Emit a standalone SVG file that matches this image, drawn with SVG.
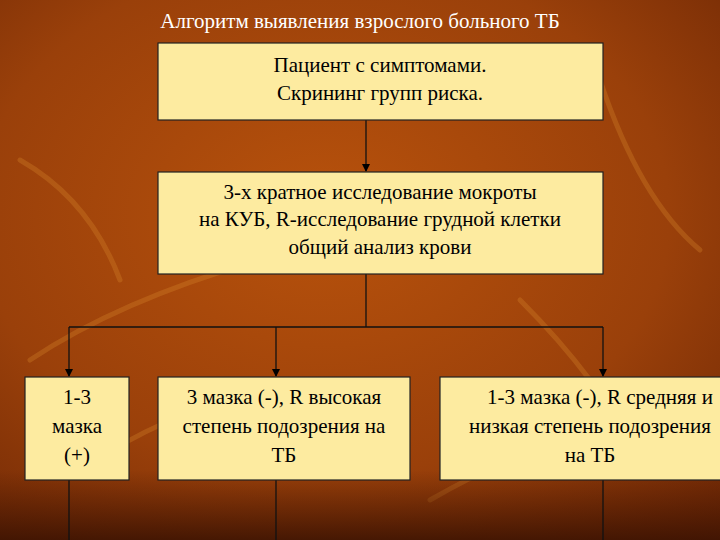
<svg xmlns="http://www.w3.org/2000/svg" width="720" height="540" viewBox="0 0 720 540">
<defs>
<radialGradient id="bg" cx="0.45" cy="0.4" r="0.8">
<stop offset="0" stop-color="#b8520c"/>
<stop offset="0.6" stop-color="#9a400a"/>
<stop offset="1" stop-color="#6e2705"/>
</radialGradient>
<linearGradient id="bot" x1="0" y1="0" x2="0" y2="1">
<stop offset="0" stop-color="#4a1803" stop-opacity="0"/>
<stop offset="1" stop-color="#3a1202" stop-opacity="0.85"/>
</linearGradient>
<marker id="ar" markerWidth="8" markerHeight="8" refX="7" refY="4" orient="auto" markerUnits="userSpaceOnUse">
<path d="M0,0 L8,4 L0,8 Z" fill="#000"/>
</marker>
<style>
.box{fill:#fdeba0;stroke:#222;stroke-width:1.2}
.ln{stroke:#111;stroke-width:1.3;fill:none}
text{font-family:"Liberation Serif","Times New Roman","DejaVu Serif",serif;font-size:21px;text-anchor:middle}
</style>
</defs>
<rect width="720" height="540" fill="url(#bg)"/>
<g fill="none" stroke="#d98a30" stroke-opacity="0.3" stroke-width="5" stroke-linecap="round">
<path d="M30,360 Q120,300 260,260"/>
<path d="M80,470 Q200,390 330,380"/>
<path d="M520,300 Q600,380 640,460"/>
<path d="M600,80 Q640,200 700,250"/>
<path d="M20,160 Q90,200 120,280"/>
<path d="M430,500 Q500,460 560,440"/>
</g>
<rect y="470" width="720" height="70" fill="url(#bot)"/>
<text x="360" y="28" fill="#fff">Алгоритм выявления взрослого больного ТБ</text>
<g id="connectors">
<path class="ln" d="M366,120 V171" marker-end="url(#ar)"/>
<path class="ln" d="M366,274 V327"/>
<path class="ln" d="M69,327 H603"/>
<path class="ln" d="M69,327 V376" marker-end="url(#ar)"/>
<path class="ln" d="M276,327 V376" marker-end="url(#ar)"/>
<path class="ln" d="M603,327 V376" marker-end="url(#ar)"/>
<path class="ln" d="M69,480 V540"/>
<path class="ln" d="M276,480 V540"/>
<path class="ln" d="M603,480 V540"/>
</g>
<g id="n1"><rect class="box" x="158" y="43" width="445" height="77"/>
<text x="380" y="72">Пациент с симптомами.</text>
<text x="380" y="100">Скрининг групп риска.</text></g>
<g id="n2"><rect class="box" x="158" y="172" width="445" height="102"/>
<text x="380" y="199">3-х кратное исследование мокроты</text>
<text x="380" y="226">на КУБ, R-исследование грудной клетки</text>
<text x="380" y="254">общий анализ крови</text></g>
<g id="n3"><rect class="box" x="25" y="377" width="104" height="103"/>
<text x="77" y="404">1-3</text>
<text x="77" y="433">мазка</text>
<text x="77" y="462">(+)</text></g>
<g id="n4"><rect class="box" x="158" y="377" width="252" height="103"/>
<text x="284" y="404">3 мазка (-), R высокая</text>
<text x="284" y="433">степень подозрения на</text>
<text x="284" y="462">ТБ</text></g>
<g id="n5"><rect class="box" x="440" y="377" width="290" height="103"/>
<text x="600" y="404">1-3 мазка (-), R средняя и</text>
<text x="590" y="433">низкая степень подозрения</text>
<text x="590" y="462">на ТБ</text></g>
</svg>
